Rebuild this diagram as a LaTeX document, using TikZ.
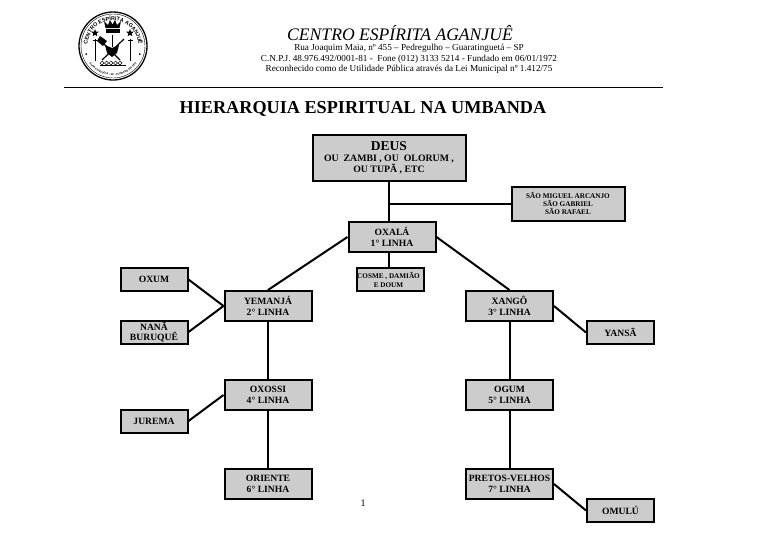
\documentclass[tikz,border=0pt]{standalone}
\usepackage{fontspec}
\setmainfont{Liberation Serif}
\newfontfamily\sealfont{Liberation Sans}
\usetikzlibrary{shapes.geometric,decorations.text}

\definecolor{boxgray}{gray}{0.8}

\tikzset{
    linhabox/.style={draw=black,fill=boxgray,line width=2pt,align=center,font=\bfseries\fontsize{9.6}{11.3}\selectfont,inner sep=0pt,minimum width=87pt,minimum height=30pt},
    sidebox/.style={linhabox,minimum width=67pt,minimum height=23pt},
    link/.style={line width=2pt,black},
    headtext/.style={align=center,inner sep=0pt,font=\fontsize{9.2}{10.6}\selectfont},
    seal/.style={black,line width=0.7pt}
}

\begin{document}
\begin{tikzpicture}[x=1pt,y=-1pt]
    \useasboundingbox (0,0) rectangle (768,544);

    % Draw the seal
    \draw[seal,line width=1.3pt] (113,46) circle (34);
    \draw[seal,line width=0.4pt] (113,46) circle (32);
    \path[decorate,decoration={text along path,text align=center,
        text={|\sealfont\bfseries\fontsize{5.4}{6}\selectfont|CENTRO ESPÍRITA AGANJUÊ}}]
        (113,46) ++(165:25.5) arc (165:375:25.5);
    \path[decorate,decoration={text along path,text align=center,
        text={|\sealfont\bfseries\fontsize{2.6}{3}\selectfont|GUARATINGUETÁ - SP - FUNDADO EM 1972}}]
        (113,46) ++(150:29.5) arc (150:30:29.5);
    \foreach \ang in {163,17}
        \fill (113,46) ++(\ang:28) circle (1);

    % Draw the crown
    \fill (105.5,28) -- (104,21) -- (108,25) -- (110,20) -- (112.5,24.5) -- (115,20) -- (117,25) -- (121,21) -- (119.5,28) -- cycle;
    \fill (105.5,29) rectangle (119.5,33);

    % Draw the stars and the swords
    \foreach \xpos in {95,130} {
        \node[star,star points=5,star point ratio=2.3,fill=black,inner sep=0pt,minimum size=8pt] at (\xpos,33) {};
        \draw[seal,line width=1pt] (\xpos,39) -- (\xpos,61);
        \draw[seal] (\xpos-2.5,40) -- (\xpos+2.5,40);
    }

    % Draw the axe, the crossed bars and the heart
    \draw[seal,line width=1.2pt] (101,41) -- (120,60);
    \draw[seal,line width=1.2pt] (124,39) -- (102,60);
    \fill (100,36) -- (107,41) -- (103,46) -- (97,41) -- cycle;
    \fill (105,45) -- (112,48) -- (119,45) -- (117,53) -- (112,57) -- (107,53) -- cycle;
    \draw[seal] (112,35) -- (112,47);

    % Draw the small pillars
    \foreach \xpos in {102,106.5,...,124}
        \draw[seal,line width=0.5pt] (\xpos,63) circle (1.9);
    \draw[seal,line width=0.5pt] (100,65.5) -- (126,65.5);

    % Header
    \node[inner sep=0pt,font=\itshape\fontsize{17.6}{20}\selectfont] (centro) at (400,33.5) {CENTRO ESPÍRITA AGANJUÊ};
    \node[headtext] (address) at (409,59) {Rua Joaquim Maia, nº 455 – Pedregulho – Guaratinguetá – SP\\
        C.N.P.J. 48.976.492/0001-81 -\ \ Fone (012) 3133 5214 - Fundado em 06/01/1972\\
        Reconhecido como de Utilidade Pública através da Lei Municipal nº 1.412/75};
    \coordinate (ruleleft) at (64,87.5);
    \coordinate (ruleright) at (663,87.5);
    \draw[line width=1pt] (ruleleft) -- (ruleright);
    \node[inner sep=0pt,font=\bfseries\fontsize{18.2}{20}\selectfont] (title) at (363,108.5) {HIERARQUIA ESPIRITUAL NA UMBANDA};

    % Boxes of the diagram
    \node[linhabox,minimum width=153pt,minimum height=46pt,font=\bfseries\fontsize{9.8}{11}\selectfont] (deus) at (389,157.5) {{\fontsize{13.5}{14}\selectfont DEUS}\\OU\ \ ZAMBI , OU\ \ OLORUM ,\\OU TUPÃ , ETC};
    \node[linhabox,minimum width=113pt,minimum height=34pt,font=\bfseries\fontsize{7.2}{7.6}\selectfont] (anjos) at (568,203.5) {SÃO MIGUEL ARCANJO\\SÃO GABRIEL\\SÃO RAFAEL};
    \node[linhabox] (oxala) at (392,237) {OXALÁ\\1° LINHA};
    \node[sidebox,font=\bfseries\fontsize{7.2}{9}\selectfont] (cosme) at (390.5,279.5) {COSME , DAMIÃO\hspace*{4pt}\\E DOUM\hspace*{4pt}};
    \node[linhabox] (yemanja) at (268,306) {YEMANJÁ\\2° LINHA};
    \node[sidebox] (oxum) at (154,279.5) {OXUM};
    \node[sidebox,font=\bfseries\fontsize{9.6}{10.5}\selectfont] (nana) at (154,332) {NANÃ\\BURUQUÊ};
    \node[linhabox] (oxossi) at (268,395) {OXOSSI\\4° LINHA};
    \node[sidebox] (jurema) at (154,421) {JUREMA};
    \node[linhabox] (oriente) at (268,484) {ORIENTE\\6° LINHA};
    \node[linhabox] (xango) at (509.5,306) {XANGÔ\\3° LINHA};
    \node[sidebox] (yansa) at (620.5,332.5) {YANSÃ};
    \node[linhabox] (ogum) at (509.5,395) {OGUM\\5° LINHA};
    \node[linhabox] (pretos) at (509.5,484) {PRETOS-VELHOS\\7° LINHA};
    \node[sidebox] (omulu) at (620.5,510.5) {OMULÚ};

    % Connectors
    \coordinate (branch) at (deus.south |- anjos.west);
    \draw[link] (deus.south) -- (deus.south |- oxala.north);
    \draw[link] (branch) -- (anjos.west);
    \draw[link] (deus.south |- oxala.south) -- (deus.south |- cosme.north);
    \draw[link] (oxala.west) -- (yemanja.north);
    \draw[link] (oxala.east) -- (xango.north);
    \draw[link] (oxum.east) -- (yemanja.west);
    \draw[link] (nana.east) -- (yemanja.west);
    \draw[link] (yemanja) -- (oxossi);
    \draw[link] (jurema.east) -- (oxossi.west);
    \draw[link] (oxossi) -- (oriente);
    \draw[link] (xango.east) -- (yansa.west);
    \draw[link] (xango) -- (ogum);
    \draw[link] (ogum) -- (pretos);
    \draw[link] (pretos.east) -- (omulu.west);

    % Page number
    \node[inner sep=0pt,font=\fontsize{10}{12}\selectfont] (pagenum) at (363,503.5) {1};
\end{tikzpicture}
\end{document}
